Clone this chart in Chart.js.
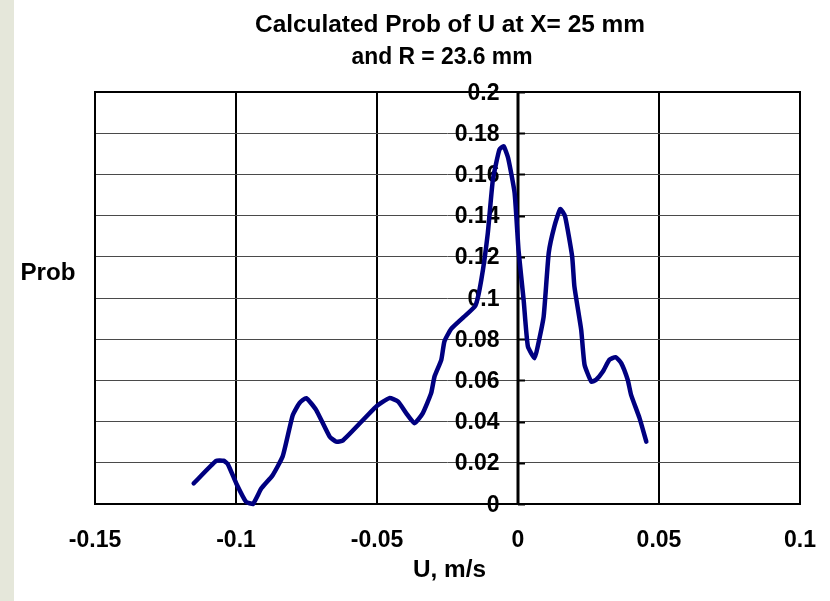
<!DOCTYPE html>
<html>
<head>
<meta charset="utf-8">
<script src="https://cdn.jsdelivr.net/npm/chart.js@4/dist/chart.umd.min.js"></script>
<style>
  html, body { margin: 0; padding: 0; background: #ffffff; }
  #wrap { width: 830px; height: 601px; }
</style>
</head>
<body>
<div id="wrap"><canvas id="c" width="830" height="601"></canvas></div>
<script>
// ---- data ----
const uValues = [
  -0.115, -0.107, -0.1044, -0.1029, -0.0999, -0.0964, -0.094, -0.091, -0.087, -0.0834,
  -0.0799, -0.0775, -0.0751, -0.0716, -0.0668, -0.0645, -0.0621, -0.0503, -0.0456, -0.0425,
  -0.0396, -0.0367, -0.0338, -0.0308, -0.0296, -0.0272, -0.0261, -0.0237, -0.0193, -0.0151,
  -0.013, -0.0107, -0.0089, -0.0066, -0.0051, -0.0035, -0.0012, 0.0002, 0.002, 0.0035,
  0.0059, 0.007, 0.0091, 0.0109, 0.0129, 0.015, 0.0167, 0.0192, 0.020, 0.0224,
  0.0236, 0.026, 0.0277, 0.0301, 0.0324, 0.0346, 0.0366, 0.0389, 0.0401, 0.0431, 0.0455
];
const probValues = [
  0.010, 0.021, 0.021, 0.0194, 0.010, 0.001, 0.000, 0.0076, 0.014, 0.0233,
  0.043, 0.049, 0.0514, 0.0457, 0.0327, 0.0303, 0.0308, 0.0473, 0.0514, 0.0497,
  0.044, 0.0392, 0.044, 0.0538, 0.0619, 0.070, 0.0789, 0.0850, 0.0907, 0.0963,
  0.1089, 0.1316, 0.1575, 0.172, 0.1737, 0.168, 0.151, 0.123, 0.099, 0.0765,
  0.0708, 0.0765, 0.091, 0.1219, 0.1348, 0.1432, 0.1396, 0.1202, 0.1056, 0.0846,
  0.0676, 0.0594, 0.0603, 0.0643, 0.070, 0.0713, 0.0684, 0.0603, 0.053, 0.0417, 0.0303
];
const xTickValues = [-0.15, -0.1, -0.05, 0, 0.05, 0.1];
const xTickLabels = ['-0.15', '-0.1', '-0.05', '0', '0.05', '0.1'];
const yTickValues = [0, 0.02, 0.04, 0.06, 0.08, 0.1, 0.12, 0.14, 0.16, 0.18, 0.2];
const yTickLabels = ['0', '0.02', '0.04', '0.06', '0.08', '0.1', '0.12', '0.14', '0.16', '0.18', '0.2'];
const titleLines = ['Calculated Prob of U at X= 25 mm', 'and R = 23.6 mm'];
const xAxisTitle = 'U, m/s';
const yAxisTitle = 'Prob';

const FONT = '"Liberation Sans", Arial, sans-serif';

function fitText(ctx, text, cx, baseline, size, targetWidth) {
  ctx.save();
  ctx.font = 'bold ' + size + 'px ' + FONT;
  const w = ctx.measureText(text).width;
  const sx = targetWidth ? targetWidth / w : 1;
  ctx.translate(cx, baseline);
  ctx.scale(sx, 1);
  ctx.textAlign = 'center';
  ctx.textBaseline = 'alphabetic';
  ctx.fillStyle = '#000';
  ctx.fillText(text, 0, 0);
  ctx.restore();
}

const decor = {
  id: 'decor',
  beforeDraw(chart) {
    const ctx = chart.ctx;
    ctx.save();
    ctx.fillStyle = '#ffffff';
    ctx.fillRect(0, 0, chart.width, chart.height);
    ctx.fillStyle = '#e5e7da';
    ctx.fillRect(0, 0, 14, chart.height);
    ctx.restore();
  },
  beforeDatasetsDraw(chart) {
    const ctx = chart.ctx;
    const a = chart.chartArea;
    const xs = chart.scales.x, ys = chart.scales.y;
    ctx.save();
    // plot border
    ctx.strokeStyle = '#000';
    ctx.lineWidth = 2;
    ctx.strokeRect(a.left, a.top, a.right - a.left, a.bottom - a.top);
    // vertical axis at U = 0
    const x0 = xs.getPixelForValue(0);
    ctx.lineWidth = 3;
    ctx.beginPath();
    ctx.moveTo(x0, a.top);
    ctx.lineTo(x0, a.bottom);
    ctx.stroke();
    // tick marks to the right of the axis
    ctx.lineWidth = 2;
    yTickValues.forEach(v => {
      const y = Math.round(ys.getPixelForValue(v)) + 0.5;
      ctx.beginPath();
      ctx.moveTo(x0, y);
      ctx.lineTo(x0 + 7, y);
      ctx.stroke();
    });
    // y tick labels, right-aligned against the axis
    ctx.font = 'bold 23px ' + FONT;
    ctx.fillStyle = '#000';
    ctx.textAlign = 'right';
    ctx.textBaseline = 'alphabetic';
    yTickValues.forEach((v, i) => {
      const y = ys.getPixelForValue(v);
      ctx.fillText(yTickLabels[i], x0 - 18.5, y + 7.5);
    });
    ctx.restore();
  },
  afterDraw(chart) {
    const ctx = chart.ctx;
    fitText(ctx, titleLines[0], 450, 32, 24, 390);
    fitText(ctx, titleLines[1], 442, 63.5, 24, 181);
    fitText(ctx, xAxisTitle, 449.5, 577, 23, 73);
    fitText(ctx, yAxisTitle, 48, 279.5, 23, 55);
  }
};

const points = uValues.map((u, i) => ({ x: u, y: probValues[i] }));

new Chart(document.getElementById('c'), {
  type: 'scatter',
  data: {
    datasets: [{
      data: points,
      showLine: true,
      borderColor: '#000080',
      backgroundColor: '#000080',
      borderWidth: 4.5,
      pointRadius: 0,
      pointHoverRadius: 0,
      tension: 0.15,
      borderCapStyle: 'round',
      borderJoinStyle: 'round',
      clip: false
    }]
  },
  options: {
    responsive: false,
    animation: false,
    devicePixelRatio: 1,
    layout: { padding: { left: 95, right: 30, top: 92, bottom: 0 } },
    plugins: {
      legend: { display: false },
      title: { display: false },
      tooltip: { enabled: false }
    },
    scales: {
      x: {
        type: 'linear',
        min: -0.15,
        max: 0.1,
        afterFit(s) { s.height = 97; s.paddingLeft = 0; s.paddingRight = 0; },
        afterBuildTicks(s) {
          s.ticks = xTickValues.map(v => ({ value: v }));
        },
        ticks: {
          callback: (v, i) => xTickLabels[i],
          color: '#000',
          font: { family: FONT, size: 23, weight: 'bold' },
          padding: 23,
          maxRotation: 0,
          autoSkip: false
        },
        grid: { color: '#000', lineWidth: 2, drawTicks: false },
        border: { display: false }
      },
      y: {
        type: 'linear',
        min: 0,
        max: 0.2,
        afterFit(s) { s.width = 0; s.paddingTop = 0; s.paddingBottom = 0; },
        ticks: { display: false, stepSize: 0.02 },
        grid: { color: '#4a4a4a', lineWidth: 1, drawTicks: false },
        border: { display: false }
      }
    }
  },
  plugins: [decor]
});
</script>
</body>
</html>
